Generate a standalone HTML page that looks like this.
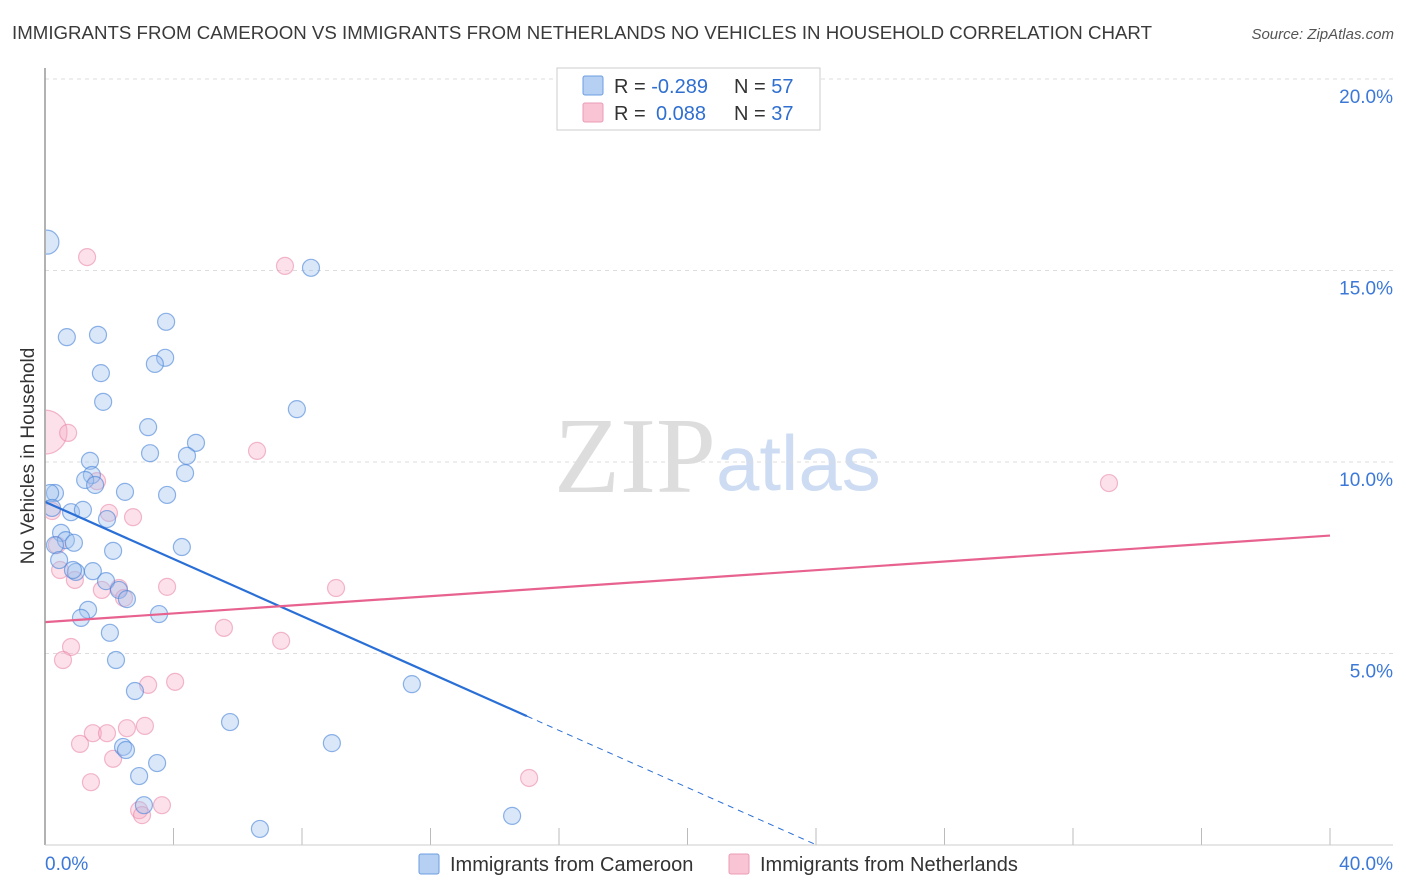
<!DOCTYPE html>
<html><head><meta charset="utf-8"><style>
body{margin:0;background:#fff;font-family:"Liberation Sans",sans-serif;}
svg{display:block}
</style></head><body>
<svg id="c" width="1406" height="892">
<defs><clipPath id="plot"><rect x="46" y="60" width="1360" height="785"/></clipPath></defs>
<text x="12" y="39" font-size="18" fill="#3a3a3a" textLength="1140" lengthAdjust="spacingAndGlyphs">IMMIGRANTS FROM CAMEROON VS IMMIGRANTS FROM NETHERLANDS NO VEHICLES IN HOUSEHOLD CORRELATION CHART</text>
<text x="1394" y="39" font-size="15" fill="#555" font-style="italic" text-anchor="end">Source: ZipAtlas.com</text>
<text x="34" y="456" font-size="19" fill="#333" text-anchor="middle" transform="rotate(-90 34 456)">No Vehicles in Household</text>
<text x="716" y="492" font-size="108" fill="#ddd" text-anchor="end" font-family="Liberation Serif,serif">ZIP</text>
<text x="716" y="490" font-size="78" fill="#cddcf2">atlas</text>
<g id="grid"></g><g id="pts" clip-path="url(#plot)"></g><g id="lines"></g>
<line x1="45" y1="68" x2="45" y2="845" stroke="#999" stroke-width="1.5"/>
<line x1="45" y1="845" x2="1393" y2="845" stroke="#ccc" stroke-width="1"/>
<text x="45" y="870" font-size="19" fill="#3b78d8">0.0%</text>
<text x="1393" y="870" font-size="19" fill="#3b78d8" text-anchor="end">40.0%</text>
<g>
<rect x="557" y="68" width="263" height="62" fill="#fff" stroke="#ccc"/>
<rect x="583" y="76" width="20" height="19" fill="#b5d0f3" stroke="#6d9de0" rx="2"/>
<rect x="583" y="103" width="20" height="19" fill="#f9c4d3" stroke="#ec9bb5" rx="2"/>
<text x="614" y="93" font-size="20" fill="#333">R = <tspan fill="#2f6fd0">-0.289</tspan><tspan x="734">N = </tspan><tspan fill="#2f6fd0">57</tspan></text>
<text x="614" y="120" font-size="20" fill="#333">R = <tspan x="656" fill="#2f6fd0">0.088</tspan><tspan x="734">N = </tspan><tspan fill="#2f6fd0">37</tspan></text>
</g>
<g>
<rect x="419" y="854" width="20" height="20" fill="#b5d0f3" stroke="#6d9de0" rx="2"/>
<text x="450" y="871" font-size="20" fill="#333">Immigrants from Cameroon</text>
<rect x="729" y="854" width="20" height="20" fill="#f9c4d3" stroke="#ec9bb5" rx="2"/>
<text x="760" y="871" font-size="20" fill="#333">Immigrants from Netherlands</text>
</g>
</svg>
<script>
const yTicks=[5,10,15,20];
const xTickVals=[4,8,12,16,20,24,28,32,36,40];
const blueX=[0.06,8.28,0.68,1.65,3.77,3.74,3.42,1.74,1.81,7.84,3.21,4.70,3.27,4.42,1.40,4.36,1.46,1.25,1.56,2.49,3.80,0.31,0.16,0.81,1.18,0.22,1.93,0.50,0.65,0.90,0.31,4.26,2.12,0.44,1.49,0.96,1.90,1.34,2.30,2.55,3.55,1.12,2.02,2.21,11.42,2.80,5.76,8.93,2.43,2.52,3.49,2.93,3.08,6.69,14.54,0.87];
const blueY=[15.74,15.07,13.26,13.32,13.66,12.72,12.56,12.32,11.57,11.38,10.91,10.50,10.23,10.16,10.03,9.71,9.66,9.53,9.40,9.22,9.14,9.19,9.19,8.69,8.75,8.80,8.51,8.15,7.96,7.89,7.83,7.78,7.68,7.44,7.15,7.13,6.89,6.14,6.66,6.42,6.03,5.93,5.54,4.83,4.20,4.02,3.21,2.66,2.56,2.48,2.14,1.80,1.04,0.42,0.76,7.18];
const pinkX=[0.0,0.72,1.31,7.47,6.60,33.12,1.62,1.99,2.74,0.22,0.37,0.47,0.93,3.80,9.06,1.77,2.30,2.46,5.57,7.35,0.81,0.56,3.21,4.05,1.09,1.49,1.93,2.55,3.11,2.12,1.43,2.93,3.64,3.02,15.07];
const pinkY=[10.78,10.76,15.35,15.12,10.29,9.45,9.50,8.67,8.56,8.72,7.83,7.18,6.92,6.74,6.71,6.66,6.71,6.45,5.67,5.33,5.17,4.83,4.18,4.26,2.64,2.92,2.92,3.05,3.11,2.25,1.64,0.91,1.04,0.78,1.75];
const blueTrend=[8.96,-0.373];
const pinkTrend=[5.82,0.0565];
const NS='http://www.w3.org/2000/svg';
const sx=v=>45+v*32.125, sy=v=>845-v*38.3;
function mk(t,a,p){const e=document.createElementNS(NS,t);for(const k in a)e.setAttribute(k,a[k]);p.appendChild(e);return e;}
const grid=document.getElementById('grid');
yTicks.forEach(v=>{
 const l=mk('line',{x1:45,x2:1393,y1:sy(v),y2:sy(v),stroke:'#ddd','stroke-dasharray':'4,4'},grid);
 
 
 const t=mk('text',{x:1393,y:sy(v)+24,'font-size':19,fill:'#3b78d8','text-anchor':'end'},grid);
 t.textContent=v.toFixed(1)+'%';
 
 
});
xTickVals.forEach(v=>{
 const l=mk('line',{x1:sx(v),x2:sx(v),y1:828,y2:845,stroke:'#bbb'},grid);
 
 
});
const pts=document.getElementById('pts');
pinkX.forEach((x,i)=>{
 const c=mk('circle',{cx:sx(x),cy:sy(pinkY[i]),r:i==0?22:8.5,fill:'rgba(245,170,195,0.35)',stroke:'rgba(232,130,165,0.55)','stroke-width':1.2},pts);
 
 
});
blueX.forEach((x,i)=>{
 const c=mk('circle',{cx:sx(x),cy:sy(blueY[i]),r:i==0?12:8.5,fill:'rgba(160,195,240,0.4)',stroke:'rgba(70,130,215,0.6)','stroke-width':1.2},pts);
 
 
});
const lines=document.getElementById('lines');
const bl=mk('line',{x1:sx(0),y1:sy(blueTrend[0]),x2:sx(15),y2:sy(blueTrend[0]+blueTrend[1]*15),stroke:'#2a6fd6','stroke-width':2.2},lines);


const xe=-blueTrend[0]/blueTrend[1];
const bd=mk('line',{x1:sx(15),y1:sy(blueTrend[0]+blueTrend[1]*15),x2:sx(xe),y2:sy(0),stroke:'#2a6fd6','stroke-width':1,'stroke-dasharray':'6,5'},lines);


const pl=mk('line',{x1:sx(0),y1:sy(pinkTrend[0]),x2:sx(40),y2:sy(pinkTrend[0]+pinkTrend[1]*40),stroke:'#e8628f','stroke-width':2.2},lines);


</script>
</body></html>
